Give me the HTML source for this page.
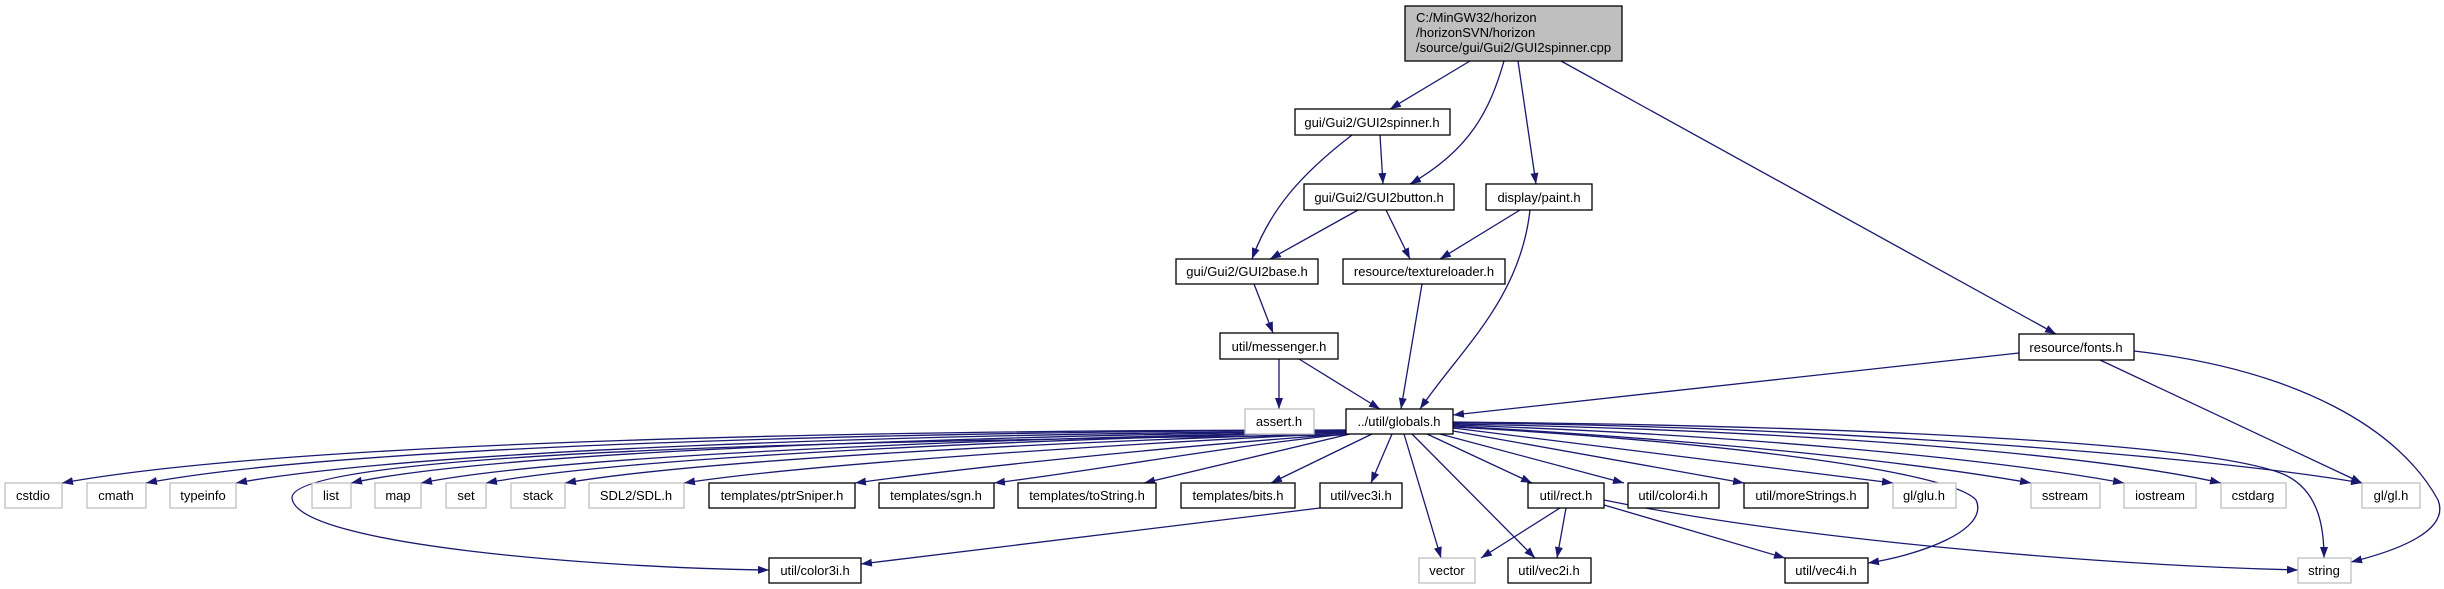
<!DOCTYPE html>
<html><head><meta charset="utf-8"><style>
html,body{margin:0;padding:0;background:#fff;}
svg{display:block;}
text{font-family:"Liberation Sans",Arial,sans-serif;font-size:13px;fill:#000;}
</style></head><body>
<svg width="2444" height="589" viewBox="0 0 2444 589" xmlns="http://www.w3.org/2000/svg">
<defs><marker id="a" markerUnits="userSpaceOnUse" markerWidth="12" markerHeight="9" refX="11" refY="4" orient="auto"><path d="M0,0 L11,4 L0,8 z" fill="#191970"/></marker></defs>
<g fill="none" stroke="#191970" stroke-width="1.3" marker-end="url(#a)">
<path d="M1470,61 L1390,109"/>
<path d="M1504,61 C1490,110 1470,150 1410,184"/>
<path d="M1518,61 L1536,184"/>
<path d="M1561,61 L2056,334"/>
<path d="M1380,135 L1383,184"/>
<path d="M1352,135 C1300,175 1270,210 1252,259"/>
<path d="M1358,210 L1270,259"/>
<path d="M1386,210 L1410,259"/>
<path d="M1520,210 L1440,259"/>
<path d="M1530,210 C1520,300 1460,350 1420,409"/>
<path d="M1422,284 L1401,409"/>
<path d="M1254,284 L1273,333"/>
<path d="M1279,359 L1279,409"/>
<path d="M1299,359 L1380,409"/>
<path d="M2019,353 L1453,415"/>
<path d="M2100,360 L2362,483"/>
<path d="M2134,351 C2300,370 2400,430 2438,500 C2450,530 2400,550 2351,562"/>
<path d="M1346,430 C900,430 300,440 62,483"/>
<path d="M1346,430 C900,432 350,445 146,483"/>
<path d="M1346,431 C900,434 420,450 236,483"/>
<path d="M1346,431 C1000,436 500,450 351,483"/>
<path d="M1346,432 C1000,438 560,455 421,483"/>
<path d="M1346,432 C1000,440 620,458 486,483"/>
<path d="M1346,433 C1050,442 700,460 565,483"/>
<path d="M1346,433 C1100,445 800,465 684,483"/>
<path d="M1346,434 C1150,448 950,470 855,483"/>
<path d="M1346,434 C1200,450 1100,470 994,483"/>
<path d="M1350,434 L1144,483"/>
<path d="M1372,434 L1271,483"/>
<path d="M1392,434 L1371,483"/>
<path d="M1346,435 C900,440 290,450 292,498 C296,545 600,568 769,570"/>
<path d="M1320,508 L861,564"/>
<path d="M1404,434 L1441,558"/>
<path d="M1412,434 L1535,558"/>
<path d="M1427,434 L1532,483"/>
<path d="M1440,434 L1624,483"/>
<path d="M1453,431 L1744,483"/>
<path d="M1453,428 L1893,483"/>
<path d="M1453,426 C1700,440 1900,460 2031,483"/>
<path d="M1453,425 C1750,435 2000,460 2124,483"/>
<path d="M1453,424 C1800,430 2100,455 2221,483"/>
<path d="M1453,423 C1800,425 2200,455 2362,483"/>
<path d="M1453,422 C1800,425 2200,440 2283,474 C2320,490 2324,530 2324,558"/>
<path d="M1453,427 C1700,440 1950,470 1976,500 C1990,530 1920,555 1868,563"/>
<path d="M1604,505 L1785,558"/>
<path d="M1604,500 C1800,540 2100,565 2298,570"/>
<path d="M1560,508 L1481,558"/>
<path d="M1566,508 L1557,558"/>
</g>
<g stroke-width="1.3">
<rect x="1405" y="6" width="217" height="55" fill="#bfbfbf" stroke="#000"/>
<text x="1416" y="22">C:/MinGW32/horizon</text>
<text x="1416" y="37">/horizonSVN/horizon</text>
<text x="1416" y="52">/source/gui/Gui2/GUI2spinner.cpp</text>
</g>
<g fill="#fff" stroke="#000" stroke-width="1.3">
<rect x="1295" y="109" width="155" height="26"/>
<rect x="1304" y="184" width="150" height="26"/>
<rect x="1486" y="184" width="106" height="26"/>
<rect x="1176" y="259" width="142" height="25"/>
<rect x="1343" y="259" width="162" height="25"/>
<rect x="1220" y="333" width="118" height="26"/>
<rect x="2019" y="334" width="115" height="26"/>
<rect x="1346" y="409" width="107" height="25"/>
<rect x="709" y="483" width="146" height="25"/>
<rect x="879" y="483" width="115" height="25"/>
<rect x="1018" y="483" width="138" height="25"/>
<rect x="1181" y="483" width="114" height="25"/>
<rect x="1320" y="483" width="82" height="25"/>
<rect x="1528" y="483" width="76" height="25"/>
<rect x="1628" y="483" width="91" height="25"/>
<rect x="1744" y="483" width="124" height="25"/>
<rect x="769" y="558" width="92" height="25"/>
<rect x="1508" y="558" width="83" height="25"/>
<rect x="1785" y="558" width="83" height="25"/>
</g>
<g fill="#fff" stroke="#bfbfbf" stroke-width="1.3">
<rect x="1245" y="409" width="69" height="25"/>
<rect x="5" y="483" width="57" height="25"/>
<rect x="87" y="483" width="59" height="25"/>
<rect x="170" y="483" width="66" height="25"/>
<rect x="312" y="483" width="39" height="25"/>
<rect x="375" y="483" width="46" height="25"/>
<rect x="446" y="483" width="40" height="25"/>
<rect x="511" y="483" width="54" height="25"/>
<rect x="589" y="483" width="95" height="25"/>
<rect x="1893" y="483" width="63" height="25"/>
<rect x="2031" y="483" width="69" height="25"/>
<rect x="2124" y="483" width="72" height="25"/>
<rect x="2221" y="483" width="65" height="25"/>
<rect x="2362" y="483" width="58" height="25"/>
<rect x="1419" y="558" width="56" height="25"/>
<rect x="2298" y="558" width="53" height="25"/>
</g>
<g text-anchor="middle">
<text x="1372" y="127">gui/Gui2/GUI2spinner.h</text>
<text x="1379" y="202">gui/Gui2/GUI2button.h</text>
<text x="1539" y="202">display/paint.h</text>
<text x="1247" y="276">gui/Gui2/GUI2base.h</text>
<text x="1424" y="276">resource/textureloader.h</text>
<text x="1279" y="351">util/messenger.h</text>
<text x="2076" y="352">resource/fonts.h</text>
<text x="1279" y="426">assert.h</text>
<text x="1399" y="426">../util/globals.h</text>
<text x="33" y="500">cstdio</text>
<text x="116" y="500">cmath</text>
<text x="203" y="500">typeinfo</text>
<text x="331" y="500">list</text>
<text x="398" y="500">map</text>
<text x="466" y="500">set</text>
<text x="538" y="500">stack</text>
<text x="636" y="500">SDL2/SDL.h</text>
<text x="782" y="500">templates/ptrSniper.h</text>
<text x="936" y="500">templates/sgn.h</text>
<text x="1087" y="500">templates/toString.h</text>
<text x="1238" y="500">templates/bits.h</text>
<text x="1361" y="500">util/vec3i.h</text>
<text x="1566" y="500">util/rect.h</text>
<text x="1673" y="500">util/color4i.h</text>
<text x="1806" y="500">util/moreStrings.h</text>
<text x="1924" y="500">gl/glu.h</text>
<text x="2065" y="500">sstream</text>
<text x="2160" y="500">iostream</text>
<text x="2253" y="500">cstdarg</text>
<text x="2391" y="500">gl/gl.h</text>
<text x="815" y="575">util/color3i.h</text>
<text x="1447" y="575">vector</text>
<text x="1549" y="575">util/vec2i.h</text>
<text x="1826" y="575">util/vec4i.h</text>
<text x="2324" y="575">string</text>
</g>
</svg>
</body></html>
